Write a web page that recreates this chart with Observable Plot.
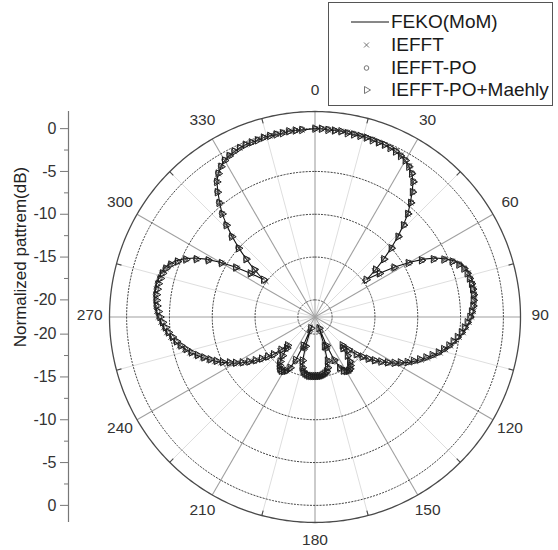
<!DOCTYPE html>
<html><head><meta charset="utf-8">
<script src="https://cdn.jsdelivr.net/npm/d3@7"></script>
<script src="https://cdn.jsdelivr.net/npm/@observablehq/plot@0.6"></script>
<style>
body{margin:0;background:#fff;font-family:"Liberation Sans",Arial,sans-serif;}
#wrap{position:relative;width:558px;height:550px;overflow:hidden;}
#legend{position:absolute;left:328px;top:2px;width:225px;height:104px;border:1.3px solid #555;background:#fff;box-sizing:border-box;}
.row{position:absolute;left:0;height:22px;}
.row svg{position:absolute;left:0;top:0;}
.row span{position:absolute;left:62px;white-space:nowrap;font-size:19px;color:#1a1a1a;line-height:22px;top:0;}
</style></head><body>
<div id="wrap"><div id="chart"></div><div id="legend"></div></div>
<script>
// angle (deg) of each sample, clockwise from top
const angles = d3.range(0, 360, 2);
// dB values per series, one per angle
const feko = [
0.0,0.0,-0.1,-0.1,-0.1,-0.2,-0.2,-0.2,-0.2,-0.3,
-0.3,-0.3,-0.4,-0.5,-0.7,-0.9,-1.3,-1.8,-2.5,-3.6,
-4.7,-5.8,-7.2,-8.6,-10.1,-11.6,-13.0,-14.5,-12.8,-11.0,
-9.2,-7.6,-6.3,-5.3,-4.5,-3.9,-3.5,-3.3,-3.2,-3.1,
-3.1,-3.1,-3.2,-3.3,-3.5,-3.7,-4.0,-4.3,-4.6,-5.0,
-5.4,-5.9,-6.4,-6.9,-7.5,-8.1,-8.7,-9.3,-9.9,-10.6,
-11.2,-11.9,-12.6,-13.3,-14.0,-14.7,-15.4,-16.5,-17.5,-17.1,
-16.1,-15.4,-15.0,-14.8,-14.7,-14.8,-15.0,-15.5,-16.6,-18.6,
-21.0,-18.6,-16.9,-16.0,-15.6,-15.4,-15.3,-15.2,-15.2,-15.2,-15.2,
-15.2,-15.2,-15.2,-15.3,-15.4,-15.6,-16.0,-16.9,-18.6,
-21.0,-18.6,-16.6,-15.5,-15.0,-14.8,-14.7,-14.8,-15.0,-15.4,
-16.1,-17.1,-17.5,-16.5,-15.4,-14.7,-14.0,-13.3,-12.6,-11.9,
-11.2,-10.6,-9.9,-9.3,-8.7,-8.1,-7.5,-6.9,-6.4,-5.9,
-5.4,-5.0,-4.6,-4.3,-4.0,-3.7,-3.5,-3.3,-3.2,-3.1,
-3.1,-3.1,-3.2,-3.3,-3.5,-3.9,-4.5,-5.3,-6.3,-7.6,
-9.2,-11.0,-12.8,-14.5,-13.0,-11.6,-10.1,-8.6,-7.2,-5.8,
-4.7,-3.6,-2.5,-1.8,-1.3,-0.9,-0.7,-0.5,-0.4,-0.3,
-0.3,-0.3,-0.2,-0.2,-0.2,-0.2,-0.1,-0.1,-0.1
];
const iefft = [
0.0,0.0,-0.1,-0.1,-0.1,-0.1,-0.2,-0.2,-0.2,-0.2,
-0.3,-0.3,-0.4,-0.5,-0.6,-0.9,-1.2,-1.8,-2.5,-3.5,
-4.6,-5.8,-7.1,-8.5,-10.0,-11.6,-13.2,-14.9,-13.0,-11.2,
-9.4,-7.9,-6.6,-5.5,-4.7,-4.1,-3.7,-3.4,-3.3,-3.2,
-3.2,-3.2,-3.3,-3.4,-3.5,-3.7,-4.0,-4.3,-4.6,-5.0,
-5.4,-5.8,-6.3,-6.8,-7.4,-8.0,-8.6,-9.2,-9.8,-10.5,
-11.1,-11.8,-12.5,-13.2,-13.9,-14.6,-15.3,-16.3,-17.2,-16.9,
-16.0,-15.3,-14.9,-14.7,-14.6,-14.7,-14.9,-15.4,-16.4,-18.3,
-20.5,-18.3,-16.7,-15.9,-15.5,-15.3,-15.2,-15.1,-15.1,-15.1,-15.1,
-15.1,-15.1,-15.1,-15.2,-15.3,-15.5,-15.9,-16.7,-18.3,
-20.5,-18.3,-16.4,-15.4,-14.9,-14.7,-14.6,-14.7,-14.9,-15.3,
-16.0,-16.9,-17.2,-16.3,-15.3,-14.6,-13.9,-13.2,-12.5,-11.8,
-11.1,-10.5,-9.8,-9.2,-8.6,-8.0,-7.4,-6.8,-6.3,-5.8,
-5.4,-5.0,-4.6,-4.3,-4.0,-3.7,-3.5,-3.4,-3.3,-3.2,
-3.2,-3.2,-3.3,-3.4,-3.7,-4.1,-4.7,-5.5,-6.6,-7.9,
-9.4,-11.2,-13.0,-14.9,-13.2,-11.6,-10.0,-8.5,-7.1,-5.8,
-4.6,-3.5,-2.5,-1.8,-1.2,-0.9,-0.6,-0.5,-0.4,-0.3,
-0.3,-0.2,-0.2,-0.2,-0.2,-0.1,-0.1,-0.1,-0.1
];
const iefftPO = [
0.0,0.0,0.0,-0.1,-0.1,-0.1,-0.1,-0.2,-0.2,-0.2,
-0.3,-0.3,-0.3,-0.4,-0.6,-0.8,-1.2,-1.7,-2.4,-3.4,
-4.5,-5.7,-7.0,-8.4,-9.9,-11.5,-13.1,-14.7,-12.9,-11.1,
-9.3,-7.8,-6.5,-5.4,-4.6,-4.0,-3.6,-3.4,-3.3,-3.2,
-3.2,-3.2,-3.3,-3.4,-3.6,-3.8,-4.1,-4.4,-4.7,-5.1,
-5.5,-5.9,-6.4,-6.9,-7.5,-8.1,-8.7,-9.3,-9.9,-10.6,
-11.2,-11.9,-12.6,-13.3,-14.0,-14.7,-15.4,-16.4,-17.3,-17.0,
-16.0,-15.3,-14.9,-14.6,-14.5,-14.6,-14.8,-15.3,-16.3,-18.1,
-20.2,-18.1,-16.5,-15.8,-15.4,-15.2,-15.1,-15.0,-15.0,-15.0,-15.0,
-15.0,-15.0,-15.0,-15.1,-15.2,-15.4,-15.8,-16.5,-18.1,
-20.2,-18.1,-16.3,-15.3,-14.8,-14.6,-14.5,-14.6,-14.9,-15.3,
-16.0,-17.0,-17.3,-16.4,-15.4,-14.7,-14.0,-13.3,-12.6,-11.9,
-11.2,-10.6,-9.9,-9.3,-8.7,-8.1,-7.5,-6.9,-6.4,-5.9,
-5.5,-5.1,-4.7,-4.4,-4.1,-3.8,-3.6,-3.4,-3.3,-3.2,
-3.2,-3.2,-3.3,-3.4,-3.6,-4.0,-4.6,-5.4,-6.5,-7.8,
-9.3,-11.1,-12.9,-14.7,-13.1,-11.5,-9.9,-8.4,-7.0,-5.7,
-4.5,-3.4,-2.4,-1.7,-1.2,-0.8,-0.6,-0.4,-0.3,-0.3,
-0.3,-0.2,-0.2,-0.2,-0.1,-0.1,-0.1,-0.1,0.0
];
const maehly = [
0.0,0.0,-0.1,-0.1,-0.1,-0.2,-0.2,-0.2,-0.2,-0.3,
-0.3,-0.3,-0.4,-0.5,-0.7,-0.9,-1.3,-1.8,-2.5,-3.5,
-4.6,-5.8,-7.1,-8.5,-10.0,-11.5,-13.0,-14.6,-12.9,-11.1,
-9.4,-7.9,-6.6,-5.5,-4.7,-4.1,-3.7,-3.5,-3.4,-3.3,
-3.3,-3.3,-3.4,-3.5,-3.7,-3.9,-4.2,-4.5,-4.8,-5.2,
-5.6,-6.0,-6.5,-7.0,-7.6,-8.2,-8.8,-9.4,-10.0,-10.7,
-11.3,-12.0,-12.7,-13.4,-14.1,-14.8,-15.5,-16.5,-17.4,-17.1,
-16.1,-15.4,-15.0,-14.7,-14.6,-14.7,-14.9,-15.4,-16.5,-18.4,
-20.6,-18.4,-16.7,-15.9,-15.5,-15.3,-15.2,-15.1,-15.1,-15.1,-15.1,
-15.1,-15.1,-15.1,-15.2,-15.3,-15.5,-15.9,-16.7,-18.4,
-20.6,-18.4,-16.5,-15.4,-14.9,-14.7,-14.6,-14.7,-15.0,-15.4,
-16.1,-17.1,-17.4,-16.5,-15.5,-14.8,-14.1,-13.4,-12.7,-12.0,
-11.3,-10.7,-10.0,-9.4,-8.8,-8.2,-7.6,-7.0,-6.5,-6.0,
-5.6,-5.2,-4.8,-4.5,-4.2,-3.9,-3.7,-3.5,-3.4,-3.3,
-3.3,-3.3,-3.4,-3.5,-3.7,-4.1,-4.7,-5.5,-6.6,-7.9,
-9.4,-11.1,-12.9,-14.6,-13.0,-11.5,-10.0,-8.5,-7.1,-5.8,
-4.6,-3.5,-2.5,-1.8,-1.3,-0.9,-0.7,-0.5,-0.4,-0.3,
-0.3,-0.3,-0.2,-0.2,-0.2,-0.2,-0.1,-0.1,-0.1
];
const seriesNames = ["FEKO(MoM)", "IEFFT", "IEFFT-PO", "IEFFT-PO+Maehly"];
const angleTicks = [0, 30, 60, 90, 120, 150, 180, 210, 240, 270, 300, 330];
const minorAngles = [15, 45, 75, 105, 135, 165, 195, 225, 255, 285, 315, 345];
const dbRings = [0, -5, -10, -15, -20];
const dbMinor = [-2.5, -7.5, -12.5, -17.5];
const axisTitle = "Normalized pattrem(dB)";

// radial mapping: dB -> radius (center = -22 dB, outer ring = +2 dB)
const DB0 = -22, DBMAX = 2;
const RMAX = DBMAX - DB0;           // 24
const rad = d => d - DB0;
const px = (a, r) => r * Math.sin(a * Math.PI / 180);
const py = (a, r) => r * Math.cos(a * Math.PI / 180);

const W = 558, H = 550;
const mL = 68, mR = 38, mT = 111, mB = 28;
const kx = (W - mL - mR);
const xmin = RMAX - kx / ((H - mT - mB) / (2 * RMAX));

const rows = arr => angles.map((a, i) => ({a, v: arr[i]}));
const ringPts = [];
for (const d of dbRings) for (let a = 0; a <= 360; a += 1) ringPts.push({d, a});
const outerPts = d3.range(0, 361, 1).map(a => ({a}));

const triRight = {
  draw(ctx, size) {
    const y = Math.sqrt(size / (Math.sqrt(3) * 3));
    ctx.moveTo(2 * y, 0);
    ctx.lineTo(-y, -Math.sqrt(3) * y);
    ctx.lineTo(-y, Math.sqrt(3) * y);
    ctx.closePath();
  }
};

const yMajor = [...dbRings.map(d => rad(d)), ...dbRings.map(d => -rad(d))];
const yMinor = [...dbMinor.map(d => rad(d)), ...dbMinor.map(d => -rad(d))];

const ink = "#333";
const chart = Plot.plot({
  width: W, height: H,
  marginLeft: mL, marginRight: mR, marginTop: mT, marginBottom: mB,
  x: {domain: [xmin, RMAX], axis: null},
  y: {domain: [-RMAX, RMAX], axis: null},
  style: {fontFamily: "'Liberation Sans', Arial, sans-serif", fontSize: "16px", background: "white", overflow: "visible"},
  marks: [
    Plot.link(minorAngles, {x1: 0, y1: 0, x2: a => px(a, RMAX), y2: a => py(a, RMAX), stroke: "#dedede", strokeWidth: 1}),
    Plot.link(angleTicks, {x1: 0, y1: 0, x2: a => px(a, RMAX), y2: a => py(a, RMAX), stroke: "#a0a0a0", strokeWidth: 1.1}),
    Plot.line(ringPts, {x: d => px(d.a, rad(d.d)), y: d => py(d.a, rad(d.d)), z: "d", stroke: "#444", strokeWidth: 1, strokeDasharray: "1.3,1.9"}),
    Plot.line(outerPts, {x: d => px(d.a, RMAX), y: d => py(d.a, RMAX), stroke: "#4a4a4a", strokeWidth: 1.3}),
    Plot.link(minorAngles, {x1: a => px(a, RMAX), y1: a => py(a, RMAX), x2: a => px(a, RMAX - 0.6), y2: a => py(a, RMAX - 0.6), stroke: "#4a4a4a", strokeWidth: 1.1}),
    Plot.line(rows(feko), {x: d => px(d.a, rad(d.v)), y: d => py(d.a, rad(d.v)), curve: "linear-closed", stroke: "#111", strokeWidth: 1.1}),
    Plot.dot(rows(iefft), {x: d => px(d.a, rad(d.v)), y: d => py(d.a, rad(d.v)), symbol: "times", r: 2.5, stroke: "#444", strokeWidth: 0.9}),
    Plot.dot(rows(iefftPO), {x: d => px(d.a, rad(d.v)), y: d => py(d.a, rad(d.v)), symbol: "circle", r: 2.4, stroke: "#3a3a3a", fill: "none", strokeWidth: 0.9}),
    Plot.dot(rows(maehly), {x: d => px(d.a, rad(d.v)), y: d => py(d.a, rad(d.v)), symbol: triRight, r: 2.8, stroke: "#1e1e1e", fill: "none", strokeWidth: 1}),
    Plot.text(angleTicks, {x: a => px(a, 26.3), y: a => py(a, 26.3), dy: -2, text: a => String(a), fontSize: 15.5, fill: ink}),
    Plot.ruleX([xmin], {y1: -RMAX, y2: RMAX, stroke: "#777", strokeWidth: 1.2}),
    Plot.axisY({anchor: "left", ticks: yMajor, tickFormat: v => String(Math.round(Math.abs(v) + DB0)), tickSize: 8, tickPadding: 4, stroke: "#777", fill: ink, fontSize: 16, label: null}),
    Plot.axisY({anchor: "left", ticks: yMinor, tickFormat: () => "", tickSize: 4, stroke: "#777", label: null}),
    Plot.text([axisTitle], {frameAnchor: "left", textAnchor: "middle", rotate: -90, dx: -48, dy: -60, fontSize: 17, fill: "#222"})
  ]
});
document.getElementById("chart").appendChild(chart);

// legend
const legend = document.getElementById("legend");
const rowTops = [8, 31, 54, 76];
seriesNames.forEach((name, i) => {
  const row = document.createElement("div");
  row.className = "row";
  row.style.top = rowTops[i] + "px";
  row.style.width = "222px";
  let sym = "";
  if (i === 0) sym = `<line x1="22" x2="60" y1="11" y2="11" stroke="#111" stroke-width="1"/>`;
  if (i === 1) sym = `<path d="M35,8.5L40,13.5M35,13.5L40,8.5" stroke="#666" stroke-width="0.9"/>`;
  if (i === 2) sym = `<circle cx="37.5" cy="11" r="2.3" fill="none" stroke="#666" stroke-width="0.9"/>`;
  if (i === 3) sym = `<path d="M35.5,7.5L41.5,11L35.5,14.5Z" fill="none" stroke="#666" stroke-width="0.9"/>`;
  row.innerHTML = `<svg width="62" height="22">${sym}</svg><span>${name}</span>`;
  legend.appendChild(row);
});
</script>
</body></html>
